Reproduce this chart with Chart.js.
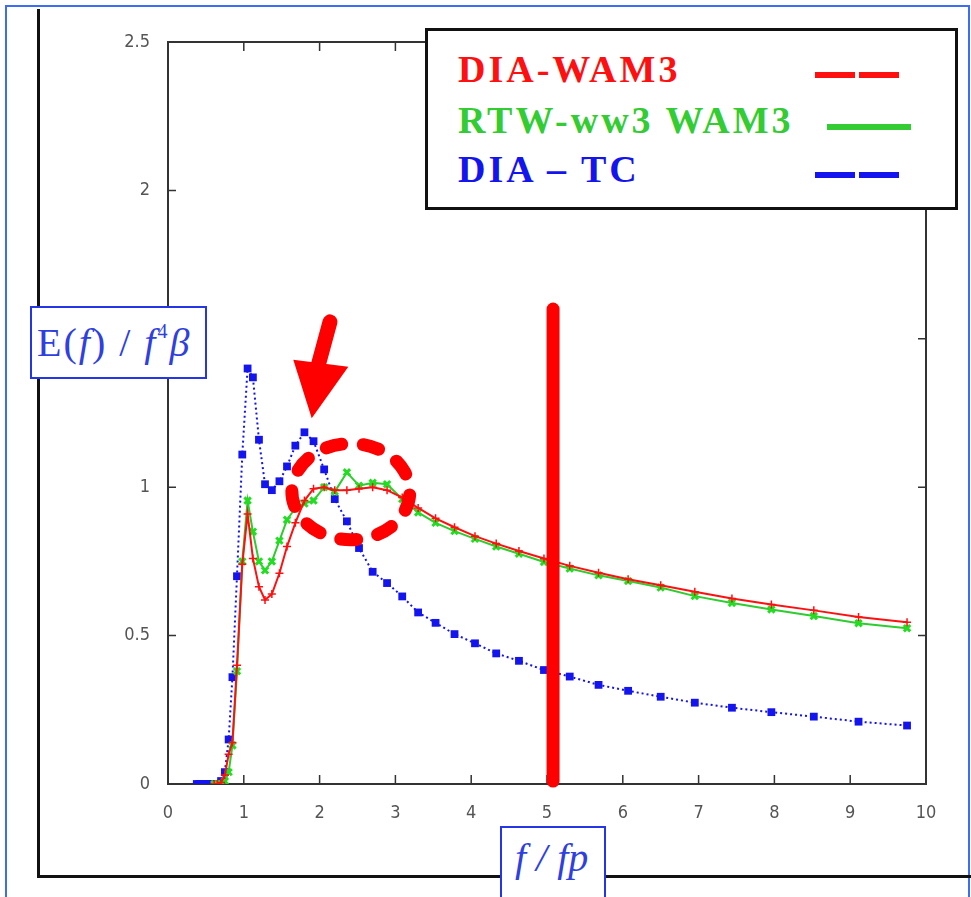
<!DOCTYPE html>
<html>
<head>
<meta charset="utf-8">
<script src="https://cdn.jsdelivr.net/npm/chart.js@4.4.1/dist/chart.umd.min.js"></script>
<style>
  html, body { margin: 0; padding: 0; background: #fff; }
  body { width: 971px; height: 897px; position: relative; overflow: hidden; }
  #outer { position: absolute; left: 5px; top: 5px; width: 961px; height: 900px; border: 2px solid #3d6df5; }
  #frameLeft { position: absolute; left: 37px; top: 9px; width: 3px; height: 869px; background: #111; }
  #frameBottom { position: absolute; left: 37px; top: 875px; width: 934px; height: 3px; background: #111; }
  #chart { position: absolute; left: 0; top: 0; }
  #legend { position: absolute; left: 425px; top: 28px; width: 527px; height: 176px; border: 3px solid #111; background: #fff; }
  #legend .row { position: absolute; left: 30px; height: 44px; line-height: 44px; font-family: 'Liberation Serif', 'DejaVu Serif', serif; font-weight: bold; font-size: 38px; letter-spacing: 3px; white-space: nowrap; }
  #legend .sample { position: absolute; height: 6px; }
  #legend .sample span { position: absolute; top: 0; height: 6px; }
  .labelBox { position: absolute; border: 2px solid #2436e6; background: #fff; color: #2f3fe0; font-family: 'Liberation Serif', 'DejaVu Serif', serif; white-space: nowrap; }
  #ylab { left: 30px; top: 306px; width: 173px; height: 69px; font-size: 40px; line-height: 69px; letter-spacing: 2px; }
  #ylab .t { position: absolute; left: 5px; top: 0; }
  #ylab sup { font-size: 20px; vertical-align: 18px; line-height: 0; }
  #xlab { left: 500px; top: 826px; width: 102px; height: 80px; font-size: 40px; font-style: italic; }
  #xlab .t { position: absolute; left: 13px; top: 6px; }
</style>
</head>
<body>
<div id="outer"></div>
<div id="frameLeft"></div>
<div id="frameBottom"></div>
<canvas id="chart" width="971" height="897"></canvas>
<div id="legend"></div>
<div id="ylab" class="labelBox"><span class="t">E(<i>f</i>) / <i>f</i><sup>4</sup><i>β</i></span></div>
<div id="xlab" class="labelBox"><span class="t">f / fp</span></div>

<script>
// f / fp grid (geometric steps of about 1.07)
const freq = [0.38, 0.41, 0.43, 0.46, 0.50, 0.53, 0.57, 0.61, 0.65, 0.70,
              0.75, 0.80, 0.85, 0.91, 0.98, 1.05, 1.12, 1.20, 1.28, 1.37,
              1.47, 1.57, 1.68, 1.80, 1.92, 2.06, 2.20, 2.36, 2.52, 2.70,
              2.89, 3.09, 3.30, 3.53, 3.78, 4.05, 4.33, 4.63, 4.96, 5.30,
              5.68, 6.07, 6.50, 6.95, 7.44, 7.96, 8.52, 9.11, 9.75];

// E(f) / f^4 beta for each run
const diaWam3 = [null, null, null, null, null, null, null,
                 0, 0, 0.005, 0.03, 0.10, 0.14, 0.40, 0.74, 0.91, 0.76, 0.665, 0.62, 0.64,
                 0.71, 0.80, 0.88, 0.955, 0.995, 1.0, 0.99, 0.99, 0.995, 1.0,
                 0.99, 0.965, 0.93, 0.895, 0.865, 0.835, 0.81, 0.785, 0.76, 0.735,
                 0.712, 0.69, 0.67, 0.648, 0.625, 0.605, 0.585, 0.563, 0.545];
const rtwWam3 = [null, null, null, null, null, null, null,
                 0, 0, 0, 0.01, 0.04, 0.13, 0.38, 0.75, 0.955, 0.85, 0.75, 0.72, 0.75,
                 0.82, 0.89, 0.93, 0.945, 0.955, 1.0, 0.985, 1.05, 1.005, 1.015,
                 1.01, 0.96, 0.915, 0.88, 0.852, 0.826, 0.80, 0.776, 0.748, 0.726,
                 0.703, 0.684, 0.662, 0.633, 0.61, 0.588, 0.566, 0.542, 0.525];
const diaTc = [0, 0, 0, 0, 0, 0, 0, 0, 0, 0.01,
               0.04, 0.15, 0.36, 0.70, 1.11, 1.40, 1.37, 1.16, 1.01, 0.99,
               1.02, 1.07, 1.14, 1.185, 1.155, 1.06, 0.96, 0.885, 0.795, 0.715,
               0.677, 0.632, 0.578, 0.543, 0.505, 0.474, 0.440, 0.415, 0.384, 0.362,
               0.334, 0.314, 0.294, 0.274, 0.257, 0.242, 0.227, 0.210, 0.197];

const seriesNames = ['DIA-WAM3', 'RTW-ww3 WAM3', 'DIA \u2013 TC'];
const seriesColors = ['#ff1010', '#33cc33', '#1414ee'];
const xTicks = [0, 1, 2, 3, 4, 5, 6, 7, 8, 9, 10];
const yTicks = [0, 0.5, 1, 1.5, 2, 2.5];

// hand-drawn marks on top of the plot, in data units
const markBarX = 5.08, markBarTop = 1.60, markBarBottom = 0.01;
const arrowShaft = [[2.137, 1.557], [1.979, 1.408]];
const arrowHead = [[1.653, 1.429], [2.379, 1.406], [1.896, 1.232]];
const ringCenter = [2.412, 0.985], ringRadius = [0.778, 0.162];

function toPoints(ys) {
    return freq.map((f, i) => ({ x: f, y: ys[i] }));
}

// legend block
const legend = document.getElementById('legend');
const rowTops = [16, 67, 116];
const sampleLeft = [387, 399, 387];
const sampleTop = [41, 93, 141];
seriesNames.forEach((name, i) => {
    const row = document.createElement('div');
    row.className = 'row';
    row.style.top = rowTops[i] + 'px';
    row.style.color = seriesColors[i];
    row.textContent = name;
    legend.appendChild(row);

    const s = document.createElement('div');
    s.className = 'sample';
    s.style.left = sampleLeft[i] + 'px';
    s.style.top = sampleTop[i] + 'px';
    s.style.width = '84px';
    const parts = i === 1 ? [[0, 84]] : [[0, 40], [44, 40]];
    parts.forEach(p => {
        const d = document.createElement('span');
        d.style.left = p[0] + 'px';
        d.style.width = p[1] + 'px';
        d.style.background = seriesColors[i];
        s.appendChild(d);
    });
    legend.appendChild(s);
});

// box + inward ticks on all four sides
const framePlugin = {
    id: 'frame',
    beforeDatasetsDraw(chart) {
        const { ctx, chartArea: a, scales: { x, y } } = chart;
        ctx.save();
        ctx.strokeStyle = '#333';
        ctx.lineWidth = 2;
        ctx.strokeRect(a.left, a.top, a.right - a.left, a.bottom - a.top);
        ctx.beginPath();
        xTicks.slice(1, -1).forEach(v => {
            const px = x.getPixelForValue(v);
            ctx.moveTo(px, a.bottom); ctx.lineTo(px, a.bottom - 9);
            ctx.moveTo(px, a.top); ctx.lineTo(px, a.top + 9);
        });
        yTicks.slice(1, -1).forEach(v => {
            const py = y.getPixelForValue(v);
            ctx.moveTo(a.left, py); ctx.lineTo(a.left + 8, py);
            ctx.moveTo(a.right, py); ctx.lineTo(a.right - 8, py);
        });
        ctx.lineWidth = 1.5;
        ctx.stroke();
        ctx.restore();
    }
};

// red bar, arrow and dashed ring
const marksPlugin = {
    id: 'marks',
    afterDatasetsDraw(chart) {
        const { ctx, scales: { x, y } } = chart;
        const P = p => [x.getPixelForValue(p[0]), y.getPixelForValue(p[1])];
        ctx.save();
        ctx.strokeStyle = '#ff0000';
        ctx.fillStyle = '#ff0000';
        ctx.lineCap = 'round';

        ctx.lineWidth = 13;
        ctx.beginPath();
        ctx.moveTo(x.getPixelForValue(markBarX), y.getPixelForValue(markBarTop));
        ctx.lineTo(x.getPixelForValue(markBarX), y.getPixelForValue(markBarBottom));
        ctx.stroke();

        ctx.lineWidth = 15;
        ctx.beginPath();
        const s0 = P(arrowShaft[0]), s1 = P(arrowShaft[1]);
        ctx.moveTo(s0[0], s0[1]);
        ctx.lineTo(s1[0], s1[1]);
        ctx.stroke();
        ctx.beginPath();
        arrowHead.map(P).forEach((p, i) => i ? ctx.lineTo(p[0], p[1]) : ctx.moveTo(p[0], p[1]));
        ctx.closePath();
        ctx.fill();

        const c = P(ringCenter);
        const rx = x.getPixelForValue(ringCenter[0] + ringRadius[0]) - c[0];
        const ry = c[1] - y.getPixelForValue(ringCenter[1] + ringRadius[1]);
        ctx.lineWidth = 13;
        ctx.setLineDash([16, 21.5]);
        ctx.beginPath();
        ctx.ellipse(c[0], c[1], rx, ry, 0, -2.0, -2.0 + Math.PI * 2);
        ctx.stroke();
        ctx.restore();
    }
};

const tickFont = { family: "'Liberation Sans Narrow', 'DejaVu Sans Condensed', 'Liberation Sans', sans-serif", size: 18 };

new Chart(document.getElementById('chart').getContext('2d'), {
    type: 'line',
    data: {
        datasets: [
            {
                label: seriesNames[0], data: toPoints(diaWam3),
                borderColor: seriesColors[0], backgroundColor: seriesColors[0],
                borderWidth: 2, pointStyle: 'cross', pointRadius: 4, pointBorderWidth: 1.5, tension: 0
            },
            {
                label: seriesNames[1], data: toPoints(rtwWam3),
                borderColor: '#2ecc2e', backgroundColor: '#22dd22',
                borderWidth: 2, pointStyle: 'crossRot', pointRadius: 4.5, pointBorderWidth: 3, pointBorderColor: '#22dd22', tension: 0
            },
            {
                label: seriesNames[2], data: toPoints(diaTc),
                borderColor: seriesColors[2], backgroundColor: seriesColors[2],
                borderWidth: 2, borderDash: [2, 3], pointStyle: 'rect', pointRadius: 5.5, pointBorderWidth: 0, tension: 0
            }
        ]
    },
    options: {
        responsive: false,
        animation: false,
        layout: { padding: { left: 0, top: 42, right: 45, bottom: 0 } },
        plugins: { legend: { display: false }, tooltip: { enabled: false } },
        scales: {
            x: {
                type: 'linear', min: 0, max: 10,
                afterBuildTicks: s => { s.ticks = xTicks.map(v => ({ value: v })); },
                afterFit: s => { s.height = 113; },
                grid: { display: false }, border: { display: false },
                ticks: { color: '#555', font: tickFont, padding: 11, maxRotation: 0, callback: v => String(v) }
            },
            y: {
                min: 0, max: 2.5,
                afterBuildTicks: s => { s.ticks = yTicks.map(v => ({ value: v })); },
                afterFit: s => { s.width = 168; },
                grid: { display: false }, border: { display: false },
                ticks: { color: '#555', font: tickFont, padding: 10, callback: v => String(v) }
            }
        }
    },
    plugins: [framePlugin, marksPlugin]
});
</script>
</body>
</html>
